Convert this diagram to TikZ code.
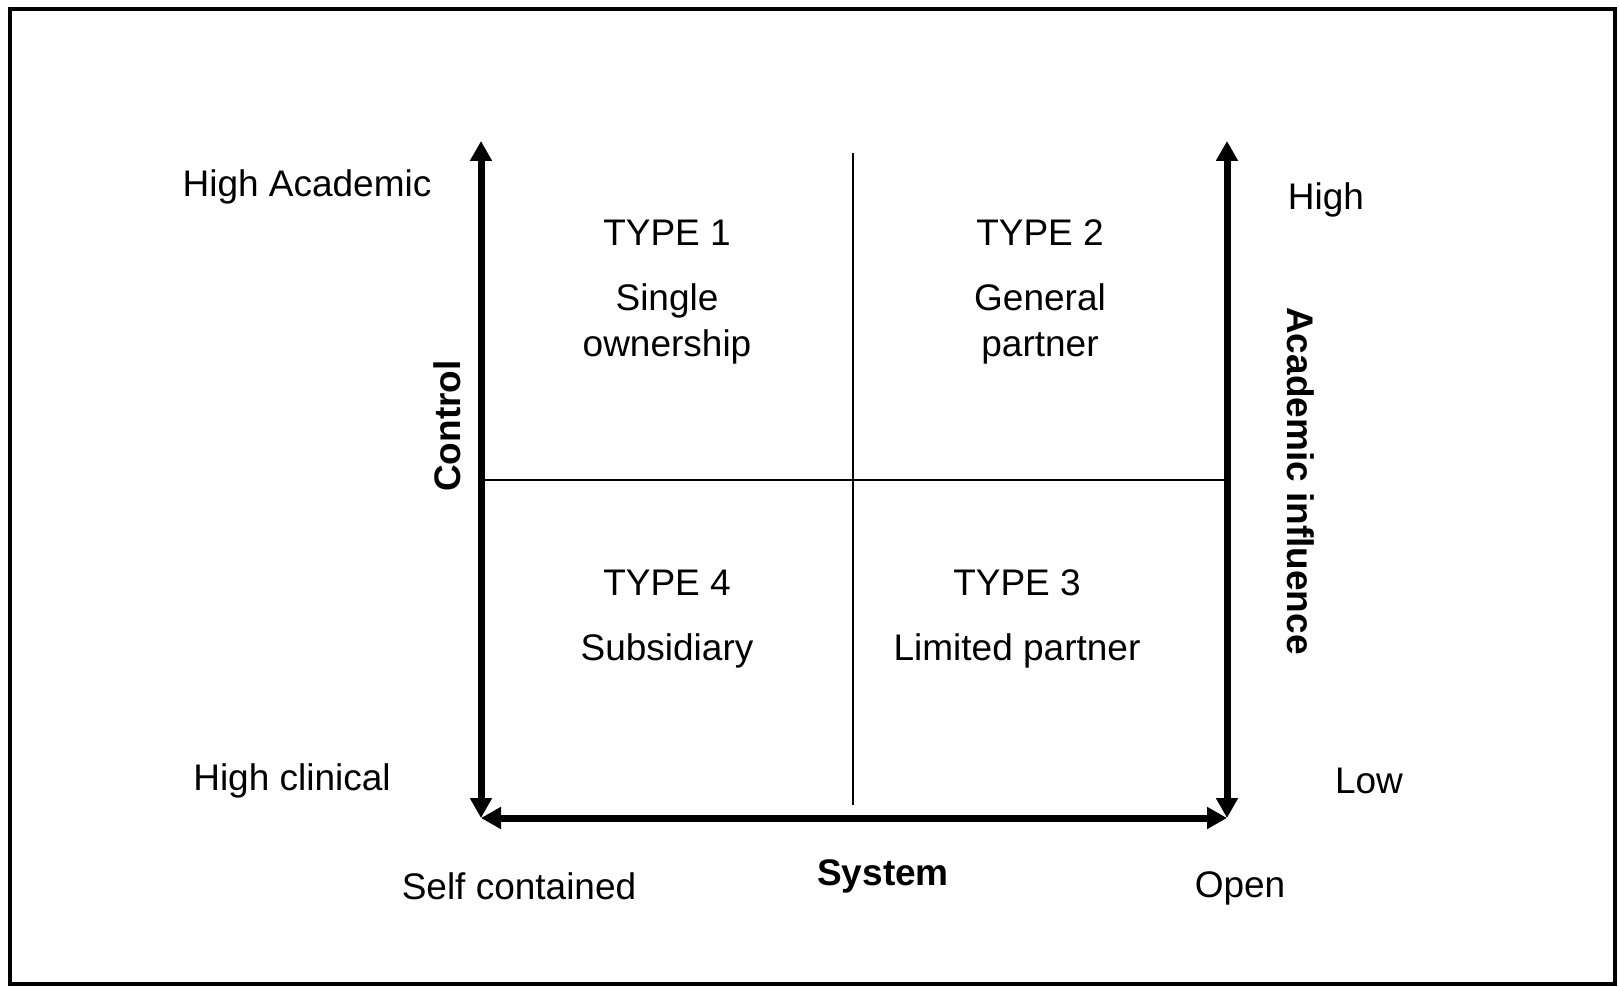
\documentclass[tikz,border=0pt]{standalone}
\usepackage{fontspec}
\setmainfont{Liberation Sans}
\usetikzlibrary{arrows.meta}

\begin{document}
\begin{tikzpicture}[x=1pt, y=-1pt, inner sep=0pt,
    font=\fontsize{37}{46}\selectfont,
    axis/.style={line width=7pt, {Triangle[length=20pt,width=21pt]}-{Triangle[length=20pt,width=21pt]}},
    grid/.style={line width=2pt}]
      \useasboundingbox (0,0) rectangle (1619,987);
      \draw [line width=4pt] (10,9) rectangle (1615,984);
      \coordinate (lt) at (481, 141);
      \coordinate (lb) at (481, 818);
      \coordinate (rt) at (1227, 141);
      \coordinate (rb) at (1227, 818);
      \coordinate (vt) at (853, 153);
      \coordinate (vb) at (853, 805);
      \coordinate (hl) at (483, 480);
      \coordinate (hr) at (1225, 480);
      \node (a) at (307, 187) {High Academic};
      \node (b) at (292, 781) {High clinical};
      \node[rotate=90, font=\fontsize{37}{46}\selectfont\bfseries] (c) at (447, 426) {Control};
      \node (d) at (667, 233) {TYPE 1};
      \node[align=center] (e) at (667, 324) {Single\\ownership};
      \node (f) at (1040, 233) {TYPE 2};
      \node[align=center] (g) at (1040, 324) {General\\partner};
      \node (h) at (667, 583) {TYPE 4};
      \node (i) at (667, 651) {Subsidiary};
      \node (j) at (1017, 583) {TYPE 3};
      \node (k) at (1017, 651) {Limited partner};
      \node (l) at (1326, 200) {High};
      \node (m) at (1369, 781) {Low};
      \node[rotate=-90, font=\fontsize{37}{46}\selectfont\bfseries] (n) at (1301, 481) {Academic influence};
      \node (p) at (519, 886) {Self contained};
      \node[font=\fontsize{37}{46}\selectfont\bfseries] (q) at (883, 876) {System};
      \node (r) at (1240, 888) {Open};
      \draw [grid] (vt) to (vb);
      \draw [grid] (hl) to (hr);
      \draw [axis] (lt) to (lb);
      \draw [axis] (rt) to (rb);
      \draw [axis] (lb) to (rb);
    \end{tikzpicture}
\end{document}
